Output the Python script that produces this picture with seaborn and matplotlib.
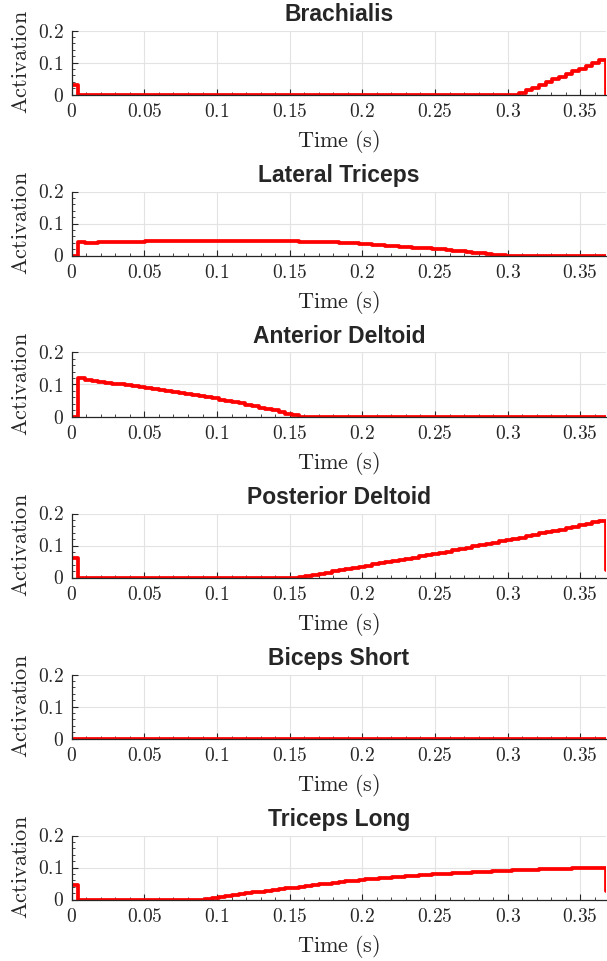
import numpy as np
import pandas as pd
import matplotlib
matplotlib.use("Agg")
import matplotlib.pyplot as plt
import seaborn as sns
from matplotlib.ticker import MultipleLocator

# one panel per muscle, top to bottom
muscles = ["Brachialis", "Lateral Triceps", "Anterior Deltoid",
           "Posterior Deltoid", "Biceps Short", "Triceps Long"]

# time grid of the control (stairs), 80 intervals
t_end = 0.3675
n_steps = 80

# activation values (81 samples each)
brachialis = [
    0.030, 0, 0, 0, 0, 0, 0, 0, 0, 0,
    0, 0, 0, 0, 0, 0, 0, 0, 0, 0,
    0, 0, 0, 0, 0, 0, 0, 0, 0, 0,
    0, 0, 0, 0, 0, 0, 0, 0, 0, 0,
    0, 0, 0, 0, 0, 0, 0, 0, 0, 0,
    0, 0, 0, 0, 0, 0, 0, 0, 0, 0,
    0, 0, 0, 0, 0, 0, 0, 0.005, 0.013, 0.021,
    0.030, 0.038, 0.047, 0.055, 0.064, 0.072, 0.081, 0.089, 0.098, 0.107,
    0.0]
lateral_triceps = [
    0.0, 0.043, 0.038, 0.038, 0.041, 0.041, 0.041, 0.041, 0.041, 0.041,
    0.041, 0.0445, 0.0445, 0.0445, 0.0445, 0.0445, 0.0445, 0.0445, 0.0445, 0.0445,
    0.0445, 0.0445, 0.0465, 0.0465, 0.0465, 0.0465, 0.0465, 0.0465, 0.0465, 0.0465,
    0.0465, 0.0465, 0.0465, 0.0465, 0.0435, 0.0435, 0.0435, 0.0435, 0.0435, 0.041,
    0.040, 0.039, 0.038, 0.037, 0.035, 0.034, 0.033, 0.031, 0.030, 0.028,
    0.027, 0.025, 0.024, 0.022, 0.021, 0.019, 0.017, 0.015, 0.013, 0.011,
    0.009, 0.007, 0.005, 0.003, 0.001, 0, 0, 0, 0, 0,
    0, 0, 0, 0, 0, 0, 0, 0, 0, 0,
    0.0]
anterior_deltoid = [
    0.0, 0.120, 0.113, 0.111, 0.108, 0.106, 0.103, 0.101, 0.098, 0.096,
    0.093, 0.090, 0.087, 0.084, 0.080, 0.077, 0.074, 0.070, 0.067, 0.064,
    0.060, 0.057, 0.053, 0.049, 0.045, 0.041, 0.037, 0.033, 0.028, 0.024,
    0.019, 0.014, 0.009, 0.004, 0, 0, 0, 0, 0, 0,
    0, 0, 0, 0, 0, 0, 0, 0, 0, 0,
    0, 0, 0, 0, 0, 0, 0, 0, 0, 0,
    0, 0, 0, 0, 0, 0, 0, 0, 0, 0,
    0, 0, 0, 0, 0, 0, 0, 0, 0, 0,
    0.0]
posterior_deltoid = [
    0.060, 0, 0, 0, 0, 0, 0, 0, 0, 0,
    0, 0, 0, 0, 0, 0, 0, 0, 0, 0,
    0, 0, 0, 0, 0, 0, 0, 0, 0, 0,
    0, 0, 0, 0, 0.002, 0.005, 0.008, 0.011, 0.015, 0.019,
    0.022, 0.026, 0.030, 0.033, 0.037, 0.041, 0.044, 0.048, 0.051, 0.055,
    0.059, 0.062, 0.066, 0.069, 0.073, 0.077, 0.081, 0.085, 0.089, 0.093,
    0.097, 0.101, 0.105, 0.109, 0.113, 0.117, 0.121, 0.125, 0.129, 0.134,
    0.138, 0.142, 0.146, 0.150, 0.155, 0.159, 0.163, 0.167, 0.172, 0.178,
    0.022]
biceps_short = [
    0, 0, 0, 0, 0, 0, 0, 0, 0, 0,
    0, 0, 0, 0, 0, 0, 0, 0, 0, 0,
    0, 0, 0, 0, 0, 0, 0, 0, 0, 0,
    0, 0, 0, 0, 0, 0, 0, 0, 0, 0,
    0, 0, 0, 0, 0, 0, 0, 0, 0, 0,
    0, 0, 0, 0, 0, 0, 0, 0, 0, 0,
    0, 0, 0, 0, 0, 0, 0, 0, 0, 0,
    0, 0, 0, 0, 0, 0, 0, 0, 0, 0,
    0.0]
triceps_long = [
    0.045, 0, 0, 0, 0, 0, 0, 0, 0, 0,
    0, 0, 0, 0, 0, 0, 0, 0, 0, 0,
    0.002, 0.005, 0.008, 0.011, 0.013, 0.016, 0.019, 0.022, 0.025, 0.027,
    0.030, 0.032, 0.035, 0.037, 0.040, 0.042, 0.045, 0.047, 0.050, 0.052,
    0.054, 0.057, 0.059, 0.061, 0.063, 0.065, 0.066, 0.068, 0.070, 0.071,
    0.073, 0.074, 0.076, 0.077, 0.079, 0.080, 0.081, 0.082, 0.083, 0.084,
    0.085, 0.086, 0.087, 0.088, 0.089, 0.090, 0.091, 0.092, 0.093, 0.093,
    0.094, 0.095, 0.095, 0.096, 0.096, 0.097, 0.097, 0.098, 0.098, 0.098,
    0.028]

series = [brachialis, lateral_triceps, anterior_deltoid,
          posterior_deltoid, biceps_short, triceps_long]

xticks = [0, 0.05, 0.1, 0.15, 0.2, 0.25, 0.3, 0.35]
xtick_labels = ["0", "0.05", "0.1", "0.15", "0.2", "0.25", "0.3", "0.35"]
yticks = [0, 0.1, 0.2]
ytick_labels = ["0", "0.1", "0.2"]

sns.set_theme(style="white")
plt.rcParams["mathtext.fontset"] = "cm"
plt.rcParams["font.family"] = ["Liberation Sans", "DejaVu Sans"]

t = np.linspace(0, t_end, n_steps + 1)
dark = "#262626"

fig = plt.figure(figsize=(6.07, 9.61), dpi=100)
W, H = 607.0, 961.0
for k, (name, vals) in enumerate(zip(muscles, series)):
    y0 = 94.5 + 161 * k  # pixel row of the zero line
    ax = fig.add_axes([71.8 / W, 1 - y0 / H, (605.7 - 71.8) / W, 64 / H])
    df = pd.DataFrame({"Time": t, "Activation": vals})
    sns.lineplot(data=df, x="Time", y="Activation", ax=ax, color="#ff0000",
                 lw=2.7, drawstyle="steps-post", estimator=None, sort=False)
    ax.set_xlim(0, t_end)
    ax.set_ylim(0, 0.2)
    ax.set_xticks(xticks, ["$%s$" % s for s in xtick_labels])
    ax.set_yticks(yticks, ["$%s$" % s for s in ytick_labels])
    ax.xaxis.set_minor_locator(MultipleLocator(0.01))
    ax.yaxis.set_minor_locator(MultipleLocator(0.02))
    ax.tick_params(which="both", direction="in", colors=dark, labelsize=14,
                   bottom=True, left=True, top=False, right=False)
    ax.tick_params(which="major", length=4, width=0.8, pad=6)
    ax.tick_params(which="minor", length=2.5, width=0.6)
    ax.grid(True, which="major", color="#e3e3e3", lw=0.8)
    for side in ["top", "right"]:
        ax.spines[side].set_visible(False)
    for side in ["left", "bottom"]:
        ax.spines[side].set_color(dark)
        ax.spines[side].set_linewidth(0.9)
    ax.set_xlabel(r"$\mathrm{Time\ (s)}$", fontsize=16, color=dark, labelpad=5)
    ax.set_ylabel(r"$\mathrm{Activation}$", fontsize=16, color=dark, labelpad=4)
    ax.set_title(name, fontsize=16.5, fontweight="bold", color=dark, pad=7)

fig.savefig("out.png", dpi=100)
